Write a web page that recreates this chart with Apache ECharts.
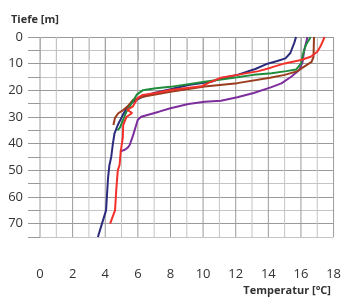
<!DOCTYPE html>
<html><head><meta charset="utf-8">
<script src="https://cdn.jsdelivr.net/npm/echarts@6/dist/echarts.min.js"></script>
<style>html,body{margin:0;padding:0;background:#fff}#c{width:344px;height:297px}</style>
</head><body><div id="c"></div>
<script>
const yLabel = 'Tiefe [m]';
const xLabel = 'Temperatur [°C]';
const xTicks = [0,2,4,6,8,10,12,14,16,18];
const xGrid = [0,1,2,3,4,5,6,7,8,9,10,11,12,13,14,15,16,17,18];
const yTicks = [0,10,20,30,40,50,60,70];
const yRange = [0,75];
// [temperature °C, depth m]
const navy = [[15.7,0],[15.6,2],[15.35,6],[15.05,8],[14.55,9],[13.95,10],[13.2,12],[12.1,14.2],[11.1,15.5],[10.5,16.8],[9.1,18],[8.0,19.6],[7.0,21],[6.3,22.4],[5.7,24.3],[5.38,26.1],[5.08,29.2],[4.77,33],[4.57,36.1],[4.47,40],[4.37,44.9],[4.25,48.3],[4.17,53],[4.1,60],[4.05,65],[3.8,70],[3.55,75]];
const green = [[16.6,0],[16.3,3],[16.1,7],[16.0,10],[15.7,12.2],[15.1,12.8],[14.2,13.6],[13.1,14.2],[12.1,15.1],[10.1,16.8],[8.0,18.7],[7.1,19.2],[6.3,20],[5.95,21.5],[5.6,25],[5.3,28],[5.1,31],[4.9,34],[4.75,35]];
const red = [[17.45,0],[17.2,3.5],[17.0,5.5],[16.6,7.4],[16.0,8.6],[15.0,9.9],[14.15,11.5],[13.4,12.8],[12.1,14.2],[11.1,15.3],[10.4,17],[9.9,18.5],[8.0,19.9],[7.1,21],[6.3,21.7],[6.0,22.8],[5.7,26],[5.35,27.3],[5.65,28.5],[5.3,30],[5.1,33],[5.08,37.5],[4.95,43],[4.88,48],[4.77,50],[4.68,57],[4.6,65],[4.3,70]];
const brown = [[16.8,0],[16.77,7.5],[16.65,9.3],[16.15,11.3],[15.75,12.9],[15.0,14.2],[14.1,15.3],[12.1,17.3],[10.1,18.6],[8.0,20.5],[6.3,22.4],[5.7,23.6],[5.38,26],[5.1,27.4],[4.8,28.6],[4.6,30.3],[4.5,33]];
const purple = [[16.4,0],[16.2,5],[16.1,9.3],[15.9,12.4],[15.4,14.9],[14.8,17.4],[14.15,18.9],[13.1,21],[12.1,22.6],[11.1,23.9],[10.1,24.3],[9.1,25.1],[8.0,26.7],[7.3,28],[6.2,29.9],[6.0,31],[5.9,33],[5.7,37],[5.5,40.5],[5.38,41.5],[5.2,42.3],[4.9,43]];

const seriesList = [
  {name:'navy', data:navy, color:'#2c2a7c'},
  {name:'purple', data:purple, color:'#7d2e9c'},
  {name:'brown', data:brown, color:'#9b3c1f'},
  {name:'green', data:green, color:'#1f8c3c'},
  {name:'red', data:red, color:'#f3302a'}
];
const font = '"Open Sans", "Noto Sans", sans-serif';
const dark = '#9a9a9a', light = '#c4c4c4';
const chart = echarts.init(document.getElementById('c'), null, {renderer:'canvas'});
const gridSeries = xGrid.map(v=>({type:'line', name:'g'+v, z:1, silent:true, showSymbol:false, symbol:'none',
  data: yRange.map(d=>[v,d]),
  lineStyle:{color: v%2===0 ? dark : light, width:1}, emphasis:{disabled:true}}));
chart.setOption({
  animation:false,
  title:[
    {text:yLabel, left:6, top:9, textStyle:{fontFamily:font, fontSize:11, fontWeight:'bold', color:'#333'}},
    {text:xLabel, right:8, top:280, textStyle:{fontFamily:font, fontSize:11, fontWeight:'bold', color:'#333'}}
  ],
  grid:{left:40, right:9, top:37, bottom:60},
  xAxis:{type:'value', min:0, max:18, interval:1,
    axisLine:{show:true, lineStyle:{color:dark, width:1}},
    axisTick:{show:true, length:23, lineStyle:{color:light, width:1}},
    axisLabel:{margin:31, fontFamily:font, fontSize:13, color:'#333',
      formatter:v=> xTicks.indexOf(v)>=0 ? String(v) : ''},
    splitLine:{show:false}
  },
  yAxis:{type:'value', inverse:true, min:0, max:75, interval:5,
    axisLine:{show:false},
    axisTick:{show:true, length:12, lineStyle:{color:dark, width:1}},
    axisLabel:{margin:17, fontFamily:font, fontSize:13, color:'#333',
      formatter:v=> yTicks.indexOf(v)>=0 ? String(v) : ''},
    splitLine:{show:true, lineStyle:{color:[dark, light], width:1}}
  },
  series: gridSeries.concat(seriesList.map(s=>({type:'line', name:s.name, data:s.data, z:2, showSymbol:false, symbol:'none',
    lineStyle:{color:s.color, width:2}, itemStyle:{color:s.color}})))
});
</script></body></html>
